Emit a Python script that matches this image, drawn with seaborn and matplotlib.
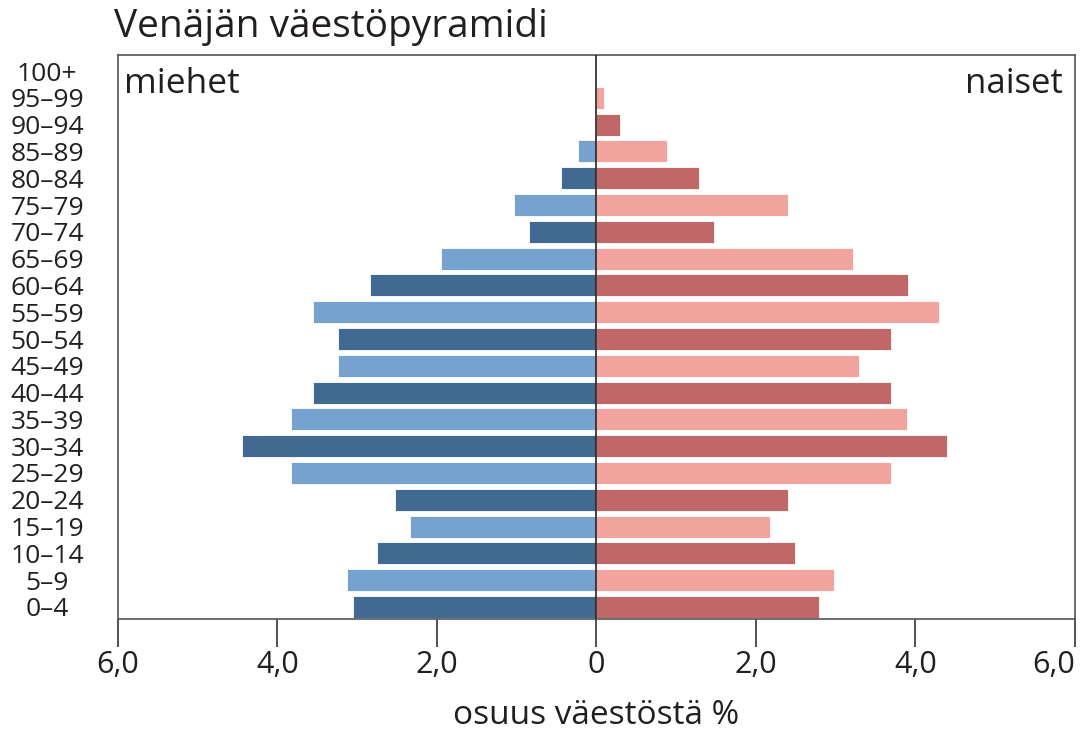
import pandas as pd
import matplotlib.pyplot as plt
import seaborn as sns

# age groups from top (oldest) to bottom (youngest)
age_groups = ['100+', '95–99', '90–94', '85–89', '80–84', '75–79', '70–74',
              '65–69', '60–64', '55–59', '50–54', '45–49', '40–44', '35–39',
              '30–34', '25–29', '20–24', '15–19', '10–14', '5–9', '0–4']

men = [0.0, 0.0, 0.0, 0.23, 0.45, 1.04, 0.84, 1.95, 2.84, 3.56, 3.24, 3.24,
       3.56, 3.83, 4.45, 3.83, 2.53, 2.34, 2.75, 3.13, 3.05]

women = [0.0, 0.1, 0.3, 0.88, 1.29, 2.40, 1.48, 3.22, 3.91, 4.30, 3.69, 3.29,
         3.69, 3.89, 4.40, 3.69, 2.40, 2.17, 2.49, 2.98, 2.79]

x_ticks = [-6, -4, -2, 0, 2, 4, 6]
x_tick_labels = ['6,0', '4,0', '2,0', '0', '2,0', '4,0', '6,0']

men_dark, men_light = '#406a92', '#76a2cf'
women_dark, women_light = '#c26767', '#f3a39e'

sns.set_style('white')
plt.rcParams['font.family'] = ['Open Sans', 'DejaVu Sans']

df = pd.DataFrame({'age': age_groups,
                   'men': [-v for v in men],
                   'women': women})

n = len(age_groups)
# youngest group (bottom) is dark, then alternating
men_cols = [men_dark if (n - 1 - i) % 2 == 0 else men_light for i in range(n)]
women_cols = [women_dark if (n - 1 - i) % 2 == 0 else women_light for i in range(n)]

fig = plt.figure(figsize=(10.82, 7.33), dpi=100)
ax = fig.add_axes([0.109, 0.1555, 0.8845, 0.7695])

sns.barplot(data=df, x='men', y='age', hue='age', palette=men_cols,
            order=age_groups, hue_order=age_groups, orient='h', width=0.82,
            saturation=1, edgecolor='white', linewidth=0.6, legend=False, ax=ax)
sns.barplot(data=df, x='women', y='age', hue='age', palette=women_cols,
            order=age_groups, hue_order=age_groups, orient='h', width=0.82,
            saturation=1, edgecolor='white', linewidth=0.6, legend=False, ax=ax)

ax.set_xlim(-6, 6)
ax.set_ylim(20.45, -0.6)
ax.axvline(0, color='#222222', lw=1.2, zorder=5)

ax.set_xticks(x_ticks)
ax.set_xticklabels(x_tick_labels, fontsize=22, color='#231f20')
ax.get_xticklabels()[-1].set_horizontalalignment('right')  # keep inside figure
ax.tick_params(axis='x', direction='out', length=20, width=1.2,
               color='#333333', pad=2, bottom=True)
ax.tick_params(axis='y', length=0, pad=51)
for lab in ax.get_yticklabels():
    lab.set_fontsize(19)
    lab.set_color('#231f20')
    lab.set_horizontalalignment('center')

for s in ax.spines.values():
    s.set_color('#555555')
    s.set_linewidth(1.2)

ax.set_ylabel('')
ax.set_xlabel('osuus väestöstä %', fontsize=24, color='#231f20', labelpad=14)

ax.text(0.006, 0.978, 'miehet', transform=ax.transAxes, fontsize=25.5,
        color='#231f20', va='top', ha='left')
ax.text(0.987, 0.978, 'naiset', transform=ax.transAxes, fontsize=25,
        color='#231f20', va='top', ha='right')

fig.text(0.105, 0.963, 'Venäjän väestöpyramidi', fontsize=28,
         color='#231f20', va='center', ha='left')

fig.savefig('out.png', dpi=100)
